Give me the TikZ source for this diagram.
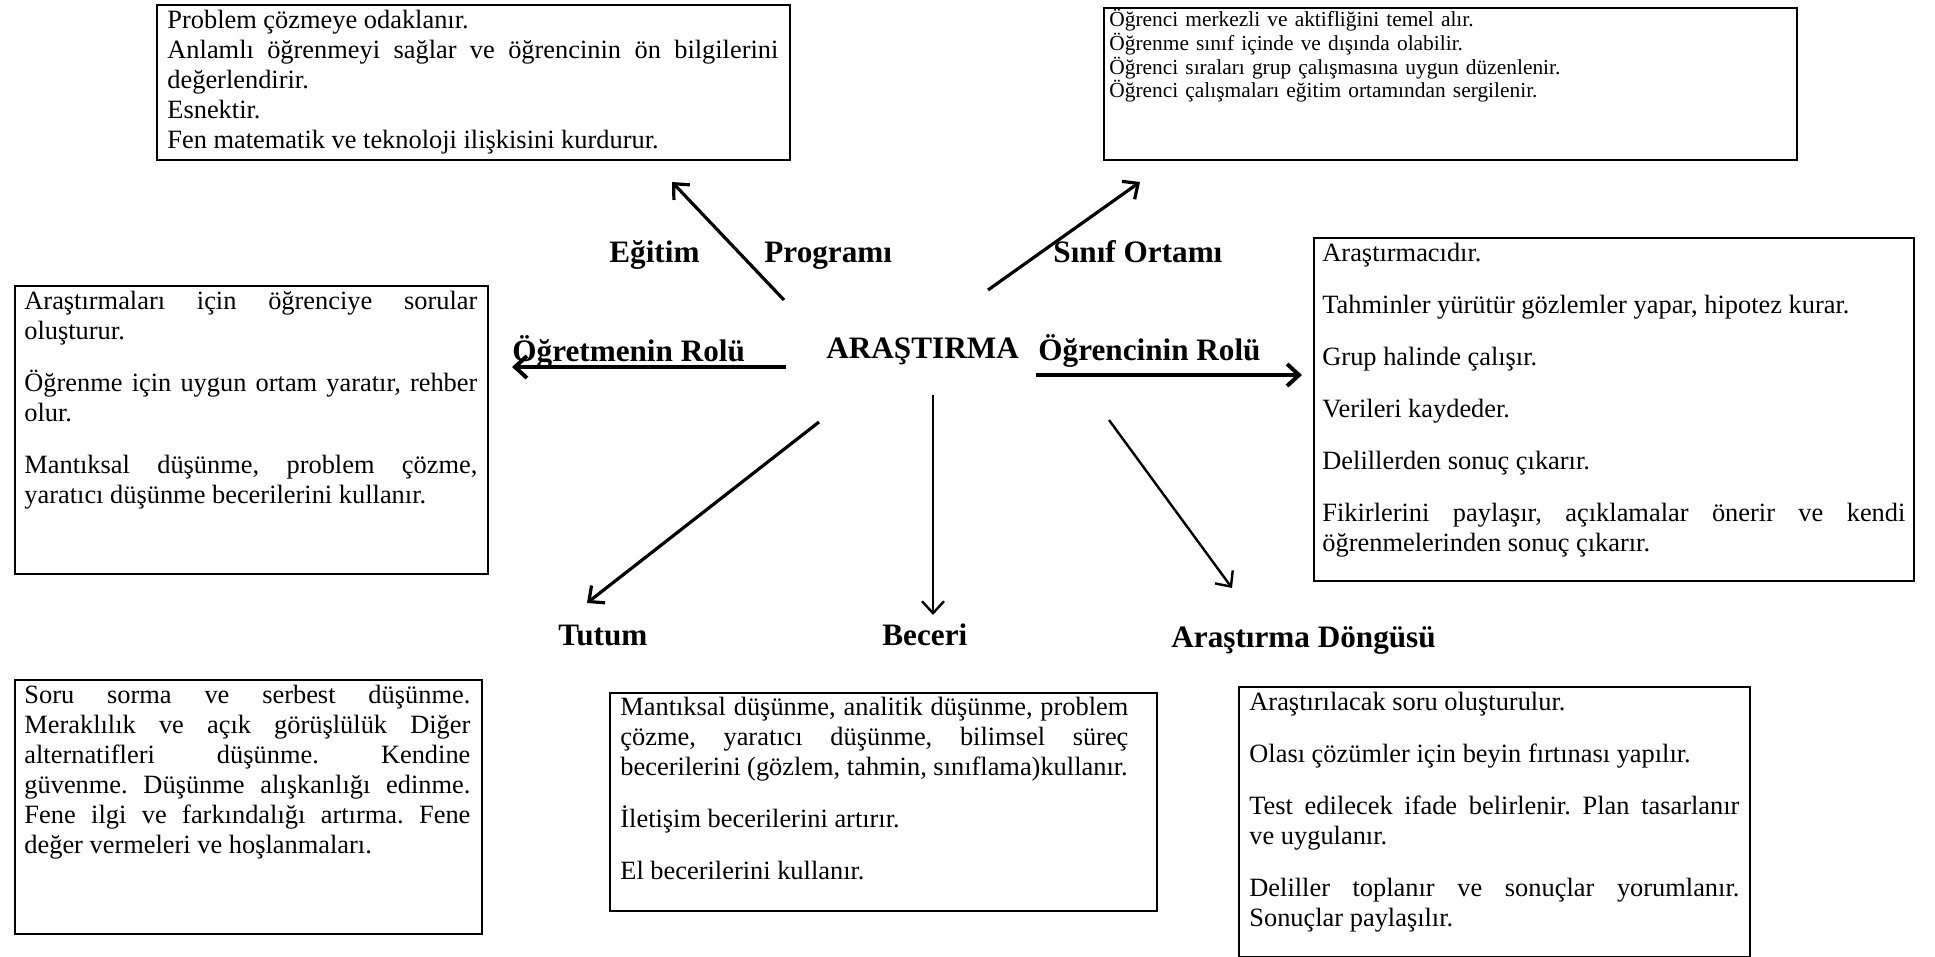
\documentclass[tikz,border=0pt]{standalone}
\usepackage{fontspec}
\setmainfont{Liberation Serif}
\usetikzlibrary{arrows.meta, positioning}
\frenchspacing
\newcommand{\bodyfont}{\fontsize{13.2pt}{15pt}\selectfont\hyphenpenalty=10000\tolerance=10000}
\newcommand{\smallbody}{\fontsize{10.7pt}{11.8pt}\selectfont\hyphenpenalty=10000}
\newcommand{\pgap}{\par\vspace{11pt}}

\begin{document}
\begin{tikzpicture}[x=0.5pt, y=-0.5pt,
    BOX/.style={draw, line width=1pt, anchor=north west, inner sep=0pt},
    TXT/.style={anchor=base west, inner sep=0pt, align=justify, font=\bodyfont},
    LBL/.style={anchor=base west, inner sep=0pt, font=\fontsize{15.6pt}{18pt}\selectfont\bfseries},
    ARR/.style={-{Straight Barb[length=6pt,width=11pt]}, line width=1.6pt},
    ARRthick/.style={ARR, line width=2pt},
    ARRthin/.style={ARR, line width=1.2pt}]
    \useasboundingbox (0,0) rectangle (1935,957);

    \node[BOX, minimum width=316.5pt, minimum height=77.5pt] (progbox) at (156,4) {};
    \node[TXT, text width=305.5pt] (progtxt) at (167,29) {Problem çözmeye odaklanır.\par
        Anlamlı öğrenmeyi sağlar ve öğrencinin ön bilgilerini \linebreak değerlendirir.\par
        Esnektir.\par
        Fen matematik ve teknoloji ilişkisini kurdurur.};

    \node[BOX, minimum width=346.5pt, minimum height=76pt] (sinifbox) at (1103,7) {};
    \node[TXT, text width=340pt, align=left, font=\smallbody] (siniftxt) at (1109,27) {Öğrenci merkezli ve aktifliğini temel alır.\par
        Öğrenme sınıf içinde ve dışında olabilir.\par
        Öğrenci sıraları grup çalışmasına uygun düzenlenir.\par
        Öğrenci çalışmaları eğitim ortamından sergilenir.};

    \node[BOX, minimum width=236.5pt, minimum height=144pt] (ogretmenbox) at (14,285) {};
    \node[TXT, text width=226.5pt] (ogretmentxt) at (24,310) {Araştırmaları için öğrenciye sorular \linebreak oluşturur.\pgap
        Öğrenme için uygun ortam yaratır, rehber \linebreak olur.\pgap
        Mantıksal düşünme, problem çözme, \linebreak yaratıcı düşünme becerilerini kullanır.};

    \node[BOX, minimum width=300pt, minimum height=171.5pt] (ogrencibox) at (1313,237) {};
    \node[TXT, text width=291.5pt] (ogrencitxt) at (1322,262) {Araştırmacıdır.\pgap
        Tahminler yürütür gözlemler yapar, hipotez kurar.\pgap
        Grup halinde çalışır.\pgap
        Verileri kaydeder.\pgap
        Delillerden sonuç çıkarır.\pgap
        Fikirlerini paylaşır, açıklamalar önerir ve kendi \linebreak öğrenmelerinden sonuç çıkarır.};

    \node[BOX, minimum width=233.5pt, minimum height=127pt] (tutumbox) at (14,679) {};
    \node[TXT, text width=223pt] (tutumtxt) at (24,703) {Soru sorma ve serbest düşünme. \linebreak
        Meraklılık ve açık görüşlülük Diğer \linebreak
        alternatifleri düşünme. Kendine \linebreak
        güvenme. Düşünme alışkanlığı edinme. \linebreak
        Fene ilgi ve farkındalığı artırma. Fene \linebreak
        değer vermeleri ve hoşlanmaları.};

    \node[BOX, minimum width=273.5pt, minimum height=109pt] (becerribox) at (609,692) {};
    \node[TXT, text width=254pt] (becerritxt) at (620,715) {Mantıksal düşünme, analitik düşünme, problem \linebreak
        çözme, yaratıcı düşünme, bilimsel süreç \linebreak
        becerilerini (gözlem, tahmin, sınıflama)kullanır.\pgap
        İletişim becerilerini artırır.\pgap
        El becerilerini kullanır.};

    \node[BOX, minimum width=255.5pt, minimum height=135pt] (dongubox) at (1238,686) {};
    \node[TXT, text width=245pt] (dongutxt) at (1249,710) {Araştırılacak soru oluşturulur.\pgap
        Olası çözümler için beyin fırtınası yapılır.\pgap
        Test edilecek ifade belirlenir. Plan tasarlanır \linebreak ve uygulanır.\pgap
        Deliller toplanır ve sonuçlar yorumlanır. \linebreak Sonuçlar paylaşılır.};

    \node[LBL] (arastirma) at (826,359) {ARAŞTIRMA};
    \node[LBL] (egitim) at (609,263) {Eğitim};
    \node[LBL] (programi) at (764,263) {Programı};
    \node[LBL] (sinif) at (1053,263) {Sınıf Ortamı};
    \node[LBL] (ogretmen) at (512,362) {Öğretmenin Rolü};
    \node[LBL] (ogrenci) at (1038,361) {Öğrencinin Rolü};
    \node[LBL] (tutum) at (558,645) {Tutum};
    \node[LBL] (beceri) at (882,645) {Beceri};
    \node[LBL] (dongu) at (1171,647) {Araştırma Döngüsü};

    \coordinate (egA) at (784,300);  \coordinate (egB) at (672,182);
    \coordinate (snA) at (988,290);  \coordinate (snB) at (1140,182);
    \coordinate (otA) at (786,367);  \coordinate (otB) at (512,367);
    \coordinate (ocA) at (1036,375); \coordinate (ocB) at (1302,375);
    \coordinate (tuA) at (819,422);  \coordinate (tuB) at (587,603);
    \coordinate (beA) at (933,395);  \coordinate (beB) at (933,615);
    \coordinate (adA) at (1109,420); \coordinate (adB) at (1232,588);

    \draw[ARR] (egA) -- (egB);
    \draw[ARR] (snA) -- (snB);
    \draw[ARRthick] (otA) -- (otB);
    \draw[ARRthick] (ocA) -- (ocB);
    \draw[ARR] (tuA) -- (tuB);
    \draw[ARRthin] (beA) -- (beB);
    \draw[ARRthin] (adA) -- (adB);
\end{tikzpicture}
\end{document}
